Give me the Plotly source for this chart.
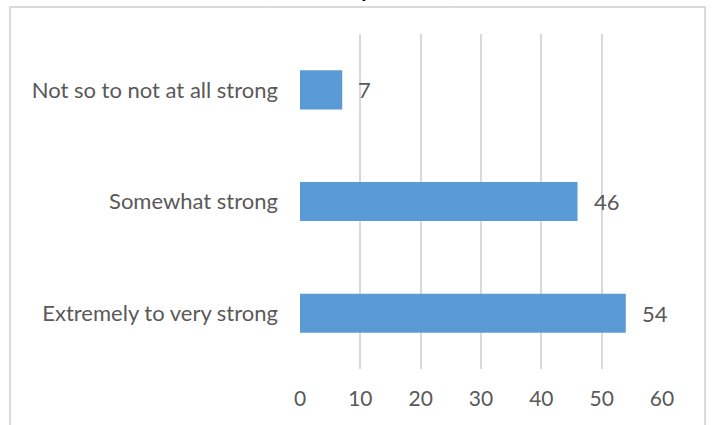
import plotly.graph_objects as go

categories = ["Extremely to very strong", "Somewhat strong", "Not so to not at all strong"]
values = [54, 46, 7]
x_ticks = [0, 10, 20, 30, 40, 50, 60]
title_text = "(n=107 respondents)"

BAR = "#5B9BD5"
TXT = "#595959"
GRID = "#D9D9D9"
FONT = "Lato"

fig = go.Figure(go.Bar(
    x=values, y=categories, orientation="h",
    marker=dict(color=BAR, line=dict(width=0)),
    hoverinfo="skip",
))

for c, v in zip(categories, values):
    fig.add_annotation(x=v, y=c, xref="x", yref="y", text=str(v), showarrow=False,
                       xanchor="left", yanchor="middle", xshift=14,
                       font=dict(family=FONT, size=22, color=TXT))

fig.add_annotation(x=0.16, y=1.092, xref="paper", yref="paper", text="<b>" + title_text + "</b>",
                   showarrow=False, xanchor="center", yanchor="bottom",
                   font=dict(family=FONT, size=21, color="#000000"))

fig.add_shape(type="rect", xref="paper", yref="paper",
              x0=-0.801, x1=1.119, y0=-0.3, y1=1.0806,
              line=dict(color=GRID, width=2), fillcolor="rgba(0,0,0,0)", layer="below")

fig.update_layout(
    width=712, height=425,
    margin=dict(l=300, r=50, t=34, b=56),
    paper_bgcolor="white", plot_bgcolor="white",
    bargap=0.65,
    showlegend=False,
    font=dict(family=FONT, size=22, color=TXT),
    xaxis=dict(range=[0, 60], tickvals=x_ticks, showgrid=True, gridcolor=GRID, gridwidth=1.5,
               zeroline=False, showline=False, ticks="", ticklabelstandoff=15,
               tickfont=dict(family=FONT, size=21, color=TXT), fixedrange=True),
    yaxis=dict(categoryorder="array", categoryarray=categories, showgrid=False, zeroline=False,
               showline=False, ticks="", ticklabelstandoff=21,
               tickfont=dict(family=FONT, size=22, color=TXT), fixedrange=True),
)

fig.write_html("out.html", config={"displayModeBar": False},
               post_script="document.body.style.margin='0';document.body.style.overflow='hidden';")
